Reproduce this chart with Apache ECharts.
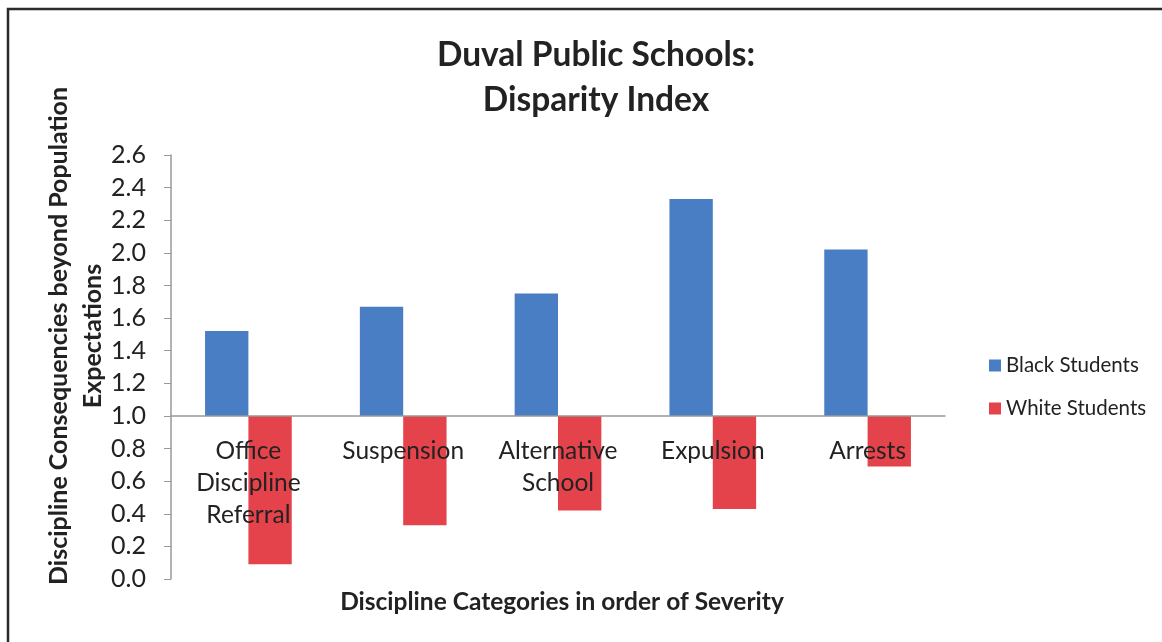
<!DOCTYPE html>
<html>
<head>
<meta charset="utf-8">
<script src="https://cdn.jsdelivr.net/npm/echarts@6/dist/echarts.min.js"></script>
<style>
html,body{margin:0;padding:0;background:#fff;}
#chart{width:1162px;height:642px;}
</style>
</head>
<body>
<div id="chart"></div>
<script>
const categories = ['Office\nDiscipline\nReferral', 'Suspension', 'Alternative\nSchool', 'Expulsion', 'Arrests'];
const blackStudents = [1.52, 1.67, 1.75, 2.33, 2.02];
const whiteStudents = [0.09, 0.33, 0.42, 0.43, 0.69];
const baseline = 1.0;
const yTicks = { min: 0, max: 2.6, interval: 0.2 };
const yAxisTitle = 'Discipline Consequencies beyond Population\nExpectations';

const FONT = 'Lato, "Open Sans", sans-serif';
const gridTop = 155, gridBottom = 63;
const gridHeight = 642 - gridTop - gridBottom;
const baselineOffset = -gridHeight * (baseline - yTicks.min) / (yTicks.max - yTicks.min);

const chart = echarts.init(document.getElementById('chart'));
chart.setOption({
  animation: false,
  backgroundColor: '#fff',
  graphic: [{
    type: 'rect', shape: { x: 8, y: 9, width: 1160, height: 700 },
    style: { fill: 'none', stroke: '#2a2a2a', lineWidth: 2.5 }, silent: true
  }, {
    type: 'text', x: 76, y: 336, rotation: Math.PI / 2, silent: true,
    style: {
      text: yAxisTitle, fill: '#222', align: 'center', verticalAlign: 'middle',
      font: 'bold 25px ' + FONT, lineHeight: 34
    }
  }],
  title: [{
    text: 'Duval Public Schools:\nDisparity Index',
    left: 591, top: 28, textAlign: 'center',
    textStyle: { fontFamily: FONT, fontWeight: 'bold', fontSize: 33.5, lineHeight: 45, color: '#222' }
  }, {
    text: 'Discipline Categories in order of Severity',
    left: 557, top: 585, textAlign: 'center',
    textStyle: { fontFamily: FONT, fontWeight: 'bold', fontSize: 24.5, color: '#222' }
  }],
  legend: {
    orient: 'vertical', left: 984, top: 350, itemWidth: 12, itemHeight: 12, itemGap: 22,
    icon: 'rect',
    data: ['Black Students', 'White Students'],
    textStyle: { fontFamily: FONT, fontSize: 20.5, color: '#222' }
  },
  grid: { left: 171, right: 217, top: gridTop, bottom: gridBottom },
  xAxis: {
    type: 'category', data: categories, position: 'bottom', offset: baselineOffset, z: 10,
    axisLine: { lineStyle: { color: '#999', width: 1.5 } },
    axisTick: { show: false },
    axisLabel: { fontFamily: FONT, fontSize: 24.5, color: '#222', lineHeight: 32, margin: 19, interval: 0 }
  },
  yAxis: {
    type: 'value', min: yTicks.min, max: yTicks.max, interval: yTicks.interval,
    axisLine: { show: true, lineStyle: { color: '#999', width: 1.5 } },
    axisTick: { show: true, inside: false, length: 7, lineStyle: { color: '#999' } },
    splitLine: { show: false },
    axisLabel: { fontFamily: FONT, fontSize: 25, color: '#222', margin: 25, formatter: v => v.toFixed(1) }
  },
  series: [
    { name: 'blackBase', type: 'bar', stack: 'black', silent: true,
      itemStyle: { color: 'transparent' }, data: blackStudents.map(() => baseline),
      barGap: '0%', barCategoryGap: '44%' },
    { name: 'Black Students', type: 'bar', stack: 'black',
      itemStyle: { color: '#4A7EC4' }, data: blackStudents.map(v => +(v - baseline).toFixed(3)),
      barGap: '0%', barCategoryGap: '44%' },
    { name: 'whiteBase', type: 'bar', stack: 'white', silent: true,
      itemStyle: { color: 'transparent' }, data: whiteStudents,
      barGap: '0%', barCategoryGap: '44%' },
    { name: 'White Students', type: 'bar', stack: 'white',
      itemStyle: { color: '#E4434B' }, data: whiteStudents.map(v => +(baseline - v).toFixed(3)),
      barGap: '0%', barCategoryGap: '44%' }
  ]
});
</script>
</body>
</html>
